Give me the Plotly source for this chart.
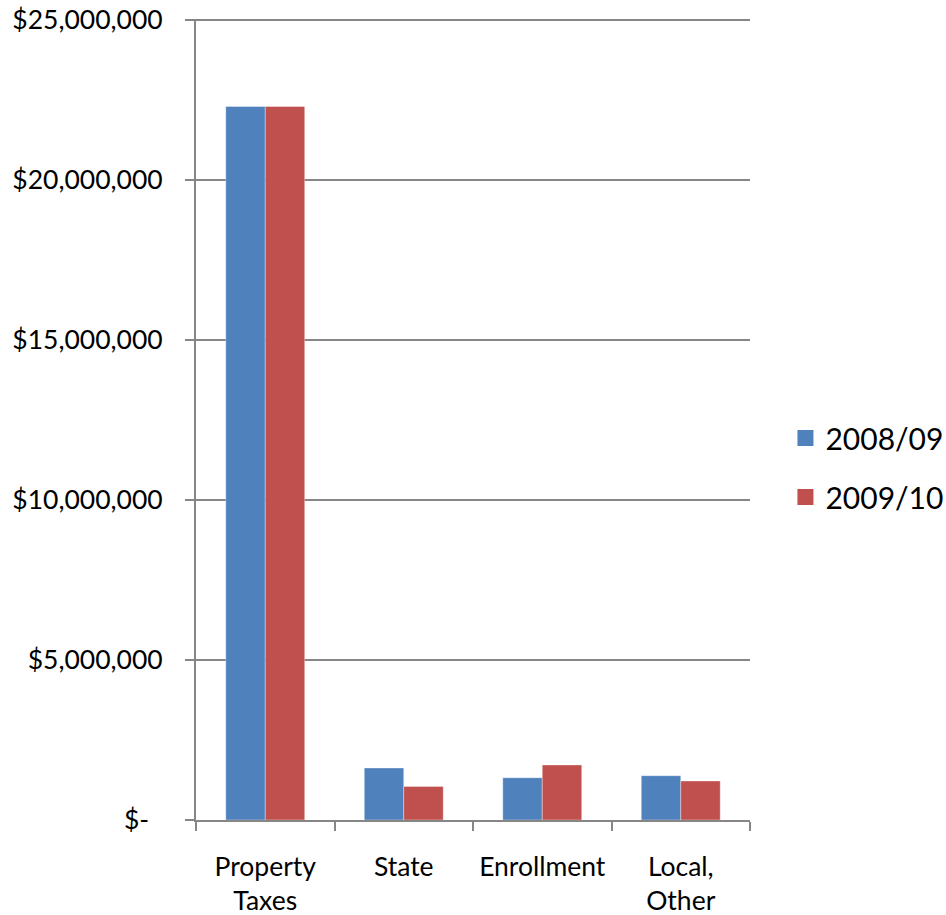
import plotly.graph_objects as go

categories = ["Property<br>Taxes", "State", "Enrollment", "Local,<br>Other"]
series_names = ["2008/09", "2009/10"]
values_2008_09 = [22300000, 1625000, 1320000, 1385000]
values_2009_10 = [22300000, 1050000, 1720000, 1220000]
colors = ["#4F81BD", "#C0504D"]
y_tickvals = [0, 5000000, 10000000, 15000000, 20000000, 25000000]
y_ticktext = ["$-\u00a0\u00a0", "$5,000,000", "$10,000,000", "$15,000,000", "$20,000,000", "$25,000,000"]

FONT = "Lato"
GRID = "#868686"

fig = go.Figure()
for i, (name, vals) in enumerate(zip(series_names, [values_2008_09, values_2009_10])):
    fig.add_trace(go.Bar(
        x=categories, y=vals, name=name,
        marker=dict(color=colors[i], line=dict(width=0.6, color="rgba(255,255,255,0.6)")),
        showlegend=False,
    ))
    fig.add_trace(go.Scatter(
        x=[None], y=[None], name=name, mode="markers",
        marker=dict(symbol="square", size=20, color=colors[i]),
        legendgroup=name, showlegend=True,
    ))

fig.update_layout(
    width=946, height=915,
    margin=dict(l=196, r=196, t=19, b=95, autoexpand=False),
    paper_bgcolor="white", plot_bgcolor="white",
    barmode="group", bargap=0.43, bargroupgap=0,
    font=dict(family=FONT, size=26.5, color="black"),
    legend=dict(
        x=1.064, y=0.44, xanchor="left", yanchor="middle",
        font=dict(family=FONT, size=30, color="black"),
        tracegroupgap=17, itemwidth=30,
        bgcolor="rgba(0,0,0,0)",
    ),
    xaxis=dict(
        type="category", tickson="boundaries", ticks="outside", ticklen=9,
        tickwidth=2, tickcolor=GRID, showline=True, linecolor=GRID, linewidth=2,
        showgrid=False, ticklabelstandoff=22, tickangle=0,
        tickfont=dict(family=FONT, size=26.5, color="black"),
    ),
    yaxis=dict(
        range=[0, 25035000], tickvals=y_tickvals, ticktext=y_ticktext,
        ticks="outside", ticklen=9, tickwidth=2, tickcolor=GRID,
        showline=True, linecolor=GRID, linewidth=2,
        showgrid=True, gridcolor=GRID, gridwidth=2, zeroline=False,
        ticklabelstandoff=17, ticklabeloverflow="allow",
        tickfont=dict(family=FONT, size=26.5, color="black"),
    ),
)

fig.write_html("out.html", config={"displayModeBar": False},
               post_script="document.body.style.margin='0';")
